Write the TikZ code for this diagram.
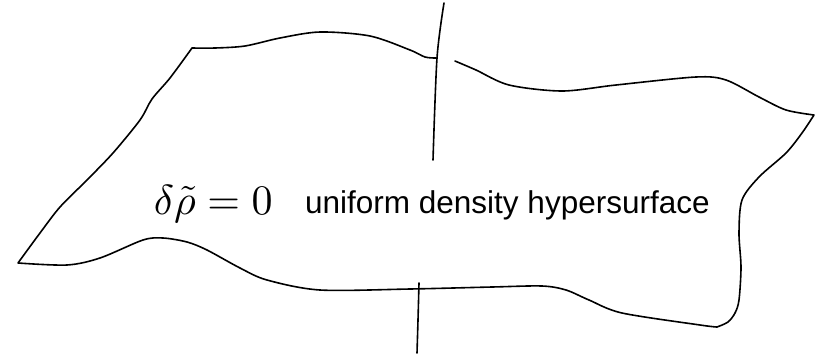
\documentclass[tikz,border=0pt]{standalone}
\usepackage{fontspec}
\setsansfont{Liberation Sans}
\usepackage{tikz}
\usetikzlibrary{positioning}
\tikzset{
  sheet/.style   = {draw=black, line width=1.6pt, line join=round, line cap=round},
  normline/.style = {draw=black, line width=1.6pt, line cap=round},
  eqlab/.style   = {scale=4.2, inner sep=0pt},
  sheetlab/.style = {font=\sffamily\fontsize{31.5}{36}\selectfont, inner sep=0pt},
}
\begin{document}
\begin{tikzpicture}[x=1pt, y=-1pt]
  \useasboundingbox (0,0) rectangle (819,354);
  % corners of the sheet
  \coordinate (TL) at (192,48);
  \coordinate (TR) at (814,115);
  \coordinate (BR) at (717,327);
  \coordinate (BL) at (18,263);
  % the hypersurface, open where the normal line passes through on top
  \draw[sheet] plot[smooth] coordinates {(436,58) (425,57) (410,50) (370,36) (320,32)
      (280,38) (245,46) (215,48) (192,48)}
    -- plot[smooth] coordinates {(192,48) (170,78) (152,99) (140,120) (113,153)
      (87,180) (60,207) (40,233) (18,263)}
    -- plot[smooth] coordinates {(18,263) (67,265) (100,258) (143,240) (163,238)
      (187,242) (207,250) (240,268) (267,280) (320,290) (410,289) (492,287)
      (542,286) (566,290) (589,300) (622,313) (700,325) (717,327)}
    -- plot[smooth] coordinates {(717,327) (728,322) (735,313) (739,300)
      (741,267) (739,233) (742,200) (759,177) (786,153) (802,133) (814,115)}
    -- plot[smooth] coordinates {(814,115) (786,110) (759,97) (726,80) (696,77)
      (616,85) (562,91) (509,85) (476,70) (455,61)};
  % normal line through the sheet
  \draw[normline] plot[smooth] coordinates {(444,3) (437,58) (433,160)};
  \draw[normline] plot[smooth] coordinates {(419,283) (418,320) (417,353)};
  % labels
  \node[eqlab, anchor=base west] (eq) at (153,214) {$\delta\tilde{\rho}=0$};
  \node[sheetlab, anchor=base west] (lbl) at (305,213) {uniform density hypersurface};
\end{tikzpicture}
\end{document}
